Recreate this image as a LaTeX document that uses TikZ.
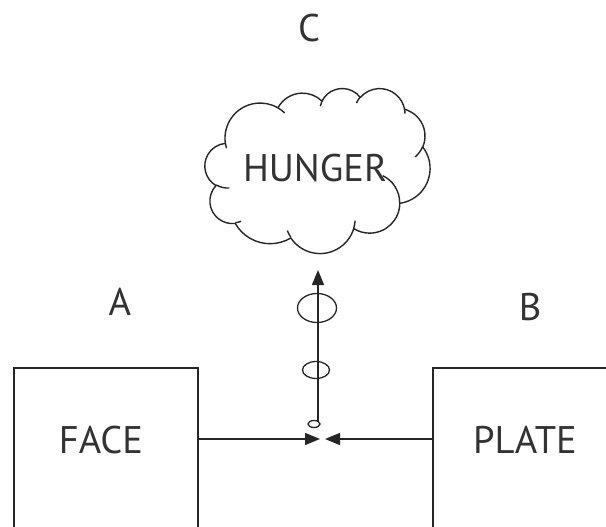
\documentclass[tikz,border=0pt]{standalone}
\usepackage{fontspec}
\setmainfont{PT Sans}
\usetikzlibrary{arrows.meta,shapes.geometric}
\tikzset{
  oo/.style n args={4}{x radius=#1, y radius=#2,
    start angle={atan2((#1)*sin(#3),(#2)*cos(#3))},
    delta angle={mod(atan2((#1)*sin((#3)+(#4)),(#2)*cos((#3)+(#4)))-atan2((#1)*sin(#3),(#2)*cos(#3))+720,360)}},
  lbl/.style={font=\fontsize{38.5}{46}\selectfont, text=black!80, inner sep=0pt},
  ln/.style={draw=black!85, line width=1.5pt},
  tipend/.style={-{Triangle[length=15pt,width=12pt]}},
  ring/.style={ellipse, draw=black!85, line width=1.3pt, inner sep=0pt},
  boxnode/.style={rectangle, draw=black!85, line width=1.5pt, inner sep=0pt, anchor=north west},
  cloudln/.style={draw=black!85, line width=1.4pt, line join=round}
}
\begin{document}
\begin{tikzpicture}[x=1pt,y=-1pt]
\useasboundingbox (0,0) rectangle (606,527);
\clip (0,0) rectangle (606,527);
\fill[white] (0,0) rectangle (606,527);

% boxes (cut off at the bottom)
\node[boxnode, minimum width=184pt, minimum height=250pt] (face) at (13,367) {};
\node[boxnode, minimum width=250pt, minimum height=250pt] (plate) at (432,367) {};
\node[lbl] (facet) at (101,440) {FACE};
\node[lbl] (platet) at (525,440) {PLATE};
\node[lbl] (la) at (120,302) {A};
\node[lbl] (lb) at (530,307) {B};
\node[lbl] (lc) at (309,28) {C};

% cloud
\begin{scope}[shift={(205,88)}, xscale=0.5208, yscale=0.3819]
\draw[cloudln, fill=white] (39.00,143.70)
  arc[oo={67.53}{91.90}{-190.4875}{123.7805}]
  arc[oo={53.33}{72.67}{-144.1024}{89.9452}]
  arc[oo={43.65}{59.45}{-145.8079}{99.7230}]
  arc[oo={48.57}{65.95}{-130.9861}{117.2417}]
  arc[oo={53.33}{72.73}{-78.7089}{109.0269}]
  arc[oo={67.75}{92.20}{-46.2673}{130.2690}]
  arc[oo={57.85}{78.67}{0.6250}{114.0333}]
  arc[oo={67.52}{92.15}{22.4516}{115.1726}]
  arc[oo={77.20}{105.43}{66.2426}{75.7110}]
  arc[oo={43.60}{59.18}{-274.9421}{146.7356}]
  arc[oo={43.45}{59.45}{-246.8285}{152.5226}] -- cycle;
\draw[cloudln] (46.93,261.77) arc[oo={43.45}{59.45}{86.742}{26.4295}];
\draw[cloudln] (69.28,348.99) arc[oo={43.60}{59.18}{73.6105}{11.4475}];
\draw[cloudln] (164.78,390.90) arc[oo={67.52}{92.15}{137.6242}{14.0811}];
\draw[cloudln] (288.27,347.51) arc[oo={67.52}{92.15}{6.4533}{15.9984}];
\draw[cloudln] (341.29,229.54) arc[oo={57.85}{78.67}{-70.2924}{70.9174}];
\draw[cloudln] (417.98,153.54) arc[oo={53.33}{72.73}{30.3180}{27.7515}];
\draw[cloudln] (383.24,54.26) arc[oo={48.57}{65.95}{-13.7443}{14.8589}];
\draw[cloudln] (290.78,39.52) arc[oo={48.57}{65.95}{-149.1815}{18.1954}];
\draw[cloudln] (221.41,47.20) arc[oo={43.65}{59.45}{-163.4943}{17.6864}];
\draw[cloudln] (140.00,51.92) arc[oo={67.53}{91.90}{-66.7070}{12.3194}];
\draw[cloudln] (41.27,157.89) arc[oo={67.53}{91.90}{157.6544}{11.8582}];
\end{scope}
\node[lbl] (hunger) at (315,168) {HUNGER};

% connectors
\coordinate (jl) at (320,439);
\coordinate (jr) at (325,439);
\draw[ln, tipend] (face.east |- jl) -- (jl);
\draw[ln, tipend] (plate.west |- jr) -- (jr);

\node[ring, minimum width=12pt, minimum height=7pt] (r1) at (314,424) {};
\coordinate (vb) at (318,421);
\coordinate (vt) at (318,270);
\draw[ln, tipend] (vb) -- (vt);
\node[ring, minimum width=27pt, minimum height=17pt] (r2) at (316,370) {};
\node[ring, minimum width=39pt, minimum height=29pt] (r3) at (317,308) {};
\end{tikzpicture}
\end{document}
